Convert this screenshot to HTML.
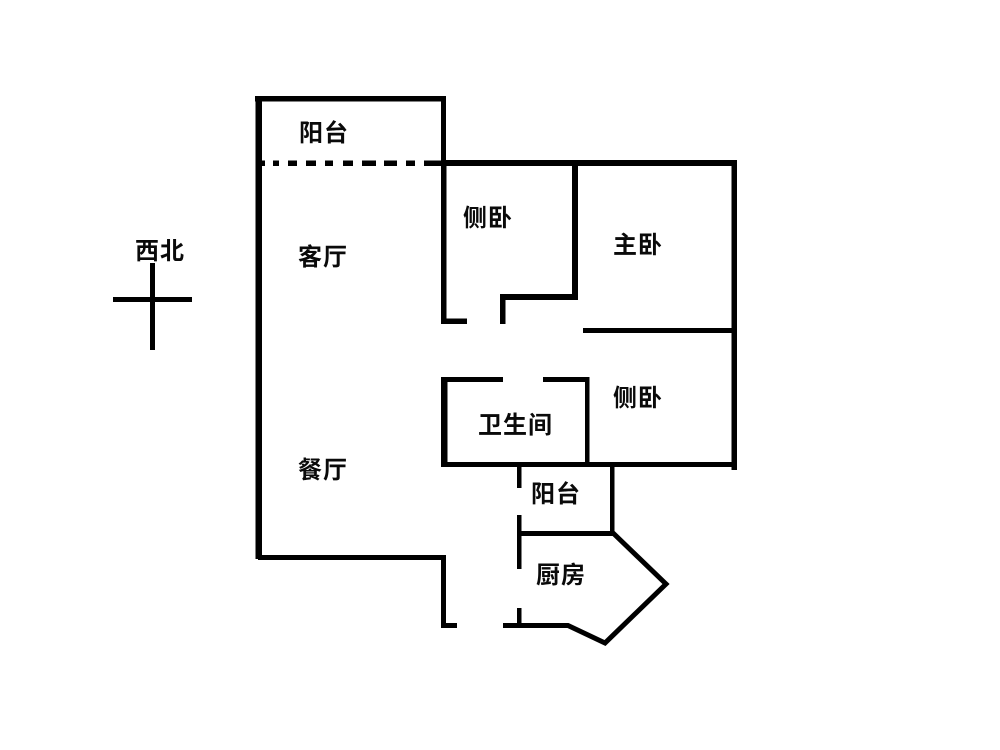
<!DOCTYPE html>
<html>
<head>
<meta charset="utf-8">
<style>
html,body{margin:0;padding:0;background:#fff;width:1000px;height:750px;overflow:hidden}
svg{display:block;filter:blur(.35px)}
text{font-family:"Liberation Sans","Noto Sans CJK SC",sans-serif;font-size:24px;font-weight:700;fill:#0a0a0a;letter-spacing:1px}
</style>
</head>
<body>
<svg width="1000" height="750" viewBox="0 0 1000 750" xmlns="http://www.w3.org/2000/svg">
<rect width="1000" height="750" fill="#fff"/>
<g fill="#000" stroke="none">
<!-- Outer left -->
<rect x="255.500" y="96" width="6.500" height="463"/>
<rect x="255" y="96" width="190" height="5.500"/>
<rect x="441" y="96" width="5" height="69"/>
<rect x="441" y="160" width="296" height="6"/>
<rect x="441" y="160" width="5.500" height="164"/>
<rect x="441" y="318.500" width="26" height="5.500"/>
<!-- dashes -->
<rect x="260" y="160.500" width="5" height="5.500"/>
<rect x="273" y="160.500" width="6" height="5.500"/>
<rect x="288" y="160.500" width="9" height="5.500"/>
<rect x="306" y="160.500" width="10" height="5.500"/>
<rect x="325" y="160.500" width="8" height="5.500"/>
<rect x="343" y="160.500" width="10" height="5.500"/>
<rect x="362" y="160.500" width="14" height="5.500"/>
<rect x="384" y="160.500" width="13" height="5.500"/>
<rect x="406" y="160.500" width="9" height="5.500"/>
<rect x="424" y="160.500" width="20" height="5.500"/>
<!-- side bedroom -->
<rect x="572" y="163" width="6" height="137"/>
<rect x="500" y="294" width="78" height="6"/>
<rect x="500" y="294" width="5.500" height="30"/>
<!-- right -->
<rect x="731.500" y="160" width="5.500" height="310"/>
<rect x="583" y="328" width="152" height="5"/>
<!-- bathroom -->
<rect x="441" y="377" width="62" height="5"/>
<rect x="543" y="377" width="46.500" height="5"/>
<rect x="441" y="377" width="6.500" height="90"/>
<rect x="585" y="377" width="4.500" height="90"/>
<rect x="441" y="462" width="296" height="5"/>
<!-- balcony -->
<rect x="517" y="465" width="4.500" height="23"/>
<rect x="517" y="515" width="4.500" height="54"/>
<rect x="517" y="608" width="4.500" height="20"/>
<rect x="610" y="465" width="4.500" height="69"/>
<rect x="519" y="531" width="95" height="5"/>
<!-- lower-left -->
<rect x="258" y="555" width="188" height="5"/>
<rect x="441" y="555" width="5" height="73"/>
<rect x="441" y="623" width="16" height="5"/>
<!-- compass -->
<rect x="150" y="263" width="5" height="87"/>
<rect x="113" y="297" width="79" height="5"/>
</g>
<polyline points="503,625.500 568,625.500 605,643 666,584 612,532" fill="none" stroke="#000" stroke-width="5"/>
<text x="299" y="141">阳台</text>
<text x="298" y="265">客厅</text>
<text x="463" y="226">侧卧</text>
<text x="613" y="253">主卧</text>
<text x="613" y="406">侧卧</text>
<text x="478" y="433">卫生间</text>
<text x="298" y="478">餐厅</text>
<text x="531" y="502">阳台</text>
<text x="536" y="583">厨房</text>
<text x="135" y="259">西北</text>
</svg>
</body>
</html>
